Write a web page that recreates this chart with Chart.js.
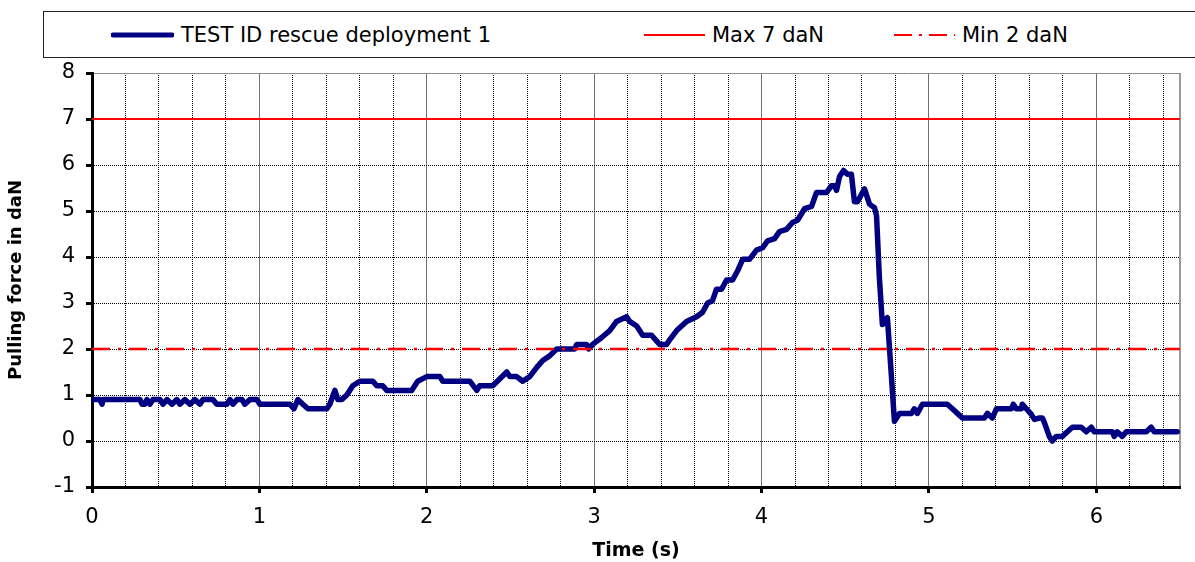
<!DOCTYPE html>
<html><head><meta charset="utf-8">
<script src="https://cdn.jsdelivr.net/npm/chart.js@4/dist/chart.umd.min.js"></script>
<style>
html,body{margin:0;padding:0;background:#fff;overflow:hidden}
#wrap{position:relative;width:1195px;height:562px}
#c{position:absolute;left:0;top:0}
#legend{position:absolute;left:43px;top:11px;width:1200px;height:47px;border:1px solid #222;box-sizing:border-box;font-family:"DejaVu Sans",Verdana,sans-serif;font-size:21px;color:#000;background:#fff}
.item{position:absolute;top:0;height:45px;display:flex;align-items:center;white-space:nowrap}
.item svg{margin-right:7px}
</style></head>
<body>
<div id="wrap">
<canvas id="c" width="1195" height="562"></canvas>
<div id="legend">
  <div class="item" style="left:67px"><svg width="63" height="10"><line x1="2" y1="5" x2="61" y2="5" stroke="#000080" stroke-width="5" stroke-linecap="round"/></svg><span>TEST ID rescue deployment 1</span></div>
  <div class="item" style="left:600px"><svg width="61" height="10"><line x1="0" y1="5" x2="61" y2="5" stroke="#ff0000" stroke-width="2"/></svg><span>Max 7 daN</span></div>
  <div class="item" style="left:850px"><svg width="61" height="10"><line x1="0" y1="5" x2="61" y2="5" stroke="#ff0000" stroke-width="2" stroke-dasharray="18 7 3 7"/></svg><span>Min 2 daN</span></div>
</div>
</div>
<script>
// ---- data ----
const timeS = [0.0,0.048,0.06,0.066,0.287,0.299,0.316,0.328,0.346,0.364,0.406,0.424,0.448,0.478,0.507,0.525,0.555,0.585,0.615,0.645,0.663,0.722,0.746,0.806,0.824,0.842,0.866,0.896,0.913,0.943,0.985,1.003,1.182,1.206,1.23,1.26,1.29,1.403,1.421,1.451,1.469,1.493,1.522,1.54,1.558,1.6,1.678,1.701,1.737,1.761,1.91,1.928,1.946,2.0,2.078,2.096,2.257,2.299,2.316,2.394,2.478,2.496,2.537,2.573,2.615,2.657,2.693,2.734,2.776,2.884,2.896,2.955,2.967,2.991,3.045,3.093,3.134,3.194,3.212,3.254,3.29,3.343,3.391,3.433,3.451,3.493,3.552,3.612,3.648,3.678,3.707,3.731,3.761,3.791,3.827,3.857,3.887,3.928,3.97,4.006,4.036,4.078,4.107,4.149,4.185,4.215,4.257,4.299,4.328,4.388,4.418,4.436,4.448,4.466,4.49,4.513,4.537,4.555,4.573,4.615,4.645,4.675,4.687,4.704,4.722,4.752,4.776,4.794,4.824,4.896,4.913,4.931,4.961,5.11,5.14,5.17,5.2,5.331,5.349,5.379,5.403,5.493,5.504,5.522,5.552,5.558,5.582,5.612,5.63,5.66,5.678,5.69,5.719,5.737,5.761,5.797,5.827,5.857,5.91,5.94,5.97,5.988,6.096,6.107,6.125,6.155,6.179,6.299,6.328,6.346,6.484];
const forceDaN = [0.9,0.9,0.8,0.9,0.9,0.8,0.8,0.9,0.8,0.9,0.9,0.8,0.9,0.8,0.9,0.8,0.9,0.8,0.9,0.8,0.9,0.9,0.8,0.8,0.9,0.8,0.9,0.9,0.8,0.9,0.9,0.8,0.8,0.7,0.9,0.8,0.7,0.7,0.8,1.1,0.9,0.9,1.0,1.1,1.2,1.3,1.3,1.2,1.2,1.1,1.1,1.2,1.3,1.4,1.4,1.3,1.3,1.1,1.2,1.2,1.5,1.4,1.4,1.3,1.4,1.6,1.75,1.85,2.0,2.0,2.1,2.1,2.0,2.1,2.25,2.4,2.6,2.7,2.6,2.5,2.3,2.3,2.1,2.1,2.2,2.4,2.6,2.7,2.8,3.0,3.05,3.3,3.3,3.5,3.5,3.7,3.95,3.95,4.15,4.2,4.35,4.4,4.55,4.6,4.75,4.8,5.05,5.1,5.4,5.4,5.55,5.55,5.45,5.75,5.88,5.8,5.8,5.2,5.2,5.48,5.15,5.07,4.9,3.55,2.53,2.68,1.4,0.43,0.6,0.6,0.7,0.6,0.8,0.8,0.7,0.6,0.5,0.5,0.6,0.5,0.7,0.7,0.8,0.7,0.7,0.8,0.7,0.58,0.47,0.5,0.5,0.4,0.1,0.0,0.1,0.1,0.2,0.3,0.3,0.2,0.3,0.2,0.2,0.1,0.2,0.1,0.2,0.2,0.3,0.2,0.2];
const maxLimit = 7;
const minLimit = 2;
const timeRange = [0, 6.5];
const forceRange = [-1, 8];
const seriesLabels = ['TEST ID rescue deployment 1', 'Max 7 daN', 'Min 2 daN'];

// grid positions: every 0.2 s plus the end of the axis
const xGridValues = [];
for (let i = 0; i <= 32; i++) xGridValues.push(Math.round(i * 2) / 10);
xGridValues.push(timeRange[1]);

const FONT = '"DejaVu Sans", Verdana, sans-serif';
const isInt = v => Math.abs(v - Math.round(v)) < 1e-6;

const mainData = timeS.map((t, i) => ({x: t, y: forceDaN[i]}));
const maxData = timeRange.map(t => ({x: t, y: maxLimit}));
const minData = timeRange.map(t => ({x: t, y: minLimit}));

new Chart(document.getElementById('c'), {
  type: 'line',
  data: {
    datasets: [
      {label: seriesLabels[0], data: mainData, borderColor: '#000080', borderWidth: 5.5, borderJoinStyle: 'round', borderCapStyle: 'round', pointRadius: 0, tension: 0, order: 2},
      {label: seriesLabels[1], data: maxData, borderColor: '#ff0000', borderWidth: 2, pointRadius: 0, order: 1},
      {label: seriesLabels[2], data: minData, borderColor: '#ff0000', borderWidth: 2.5, borderDash: [18, 8, 3, 8], pointRadius: 0, order: 1}
    ]
  },
  options: {
    responsive: false,
    animation: false,
    layout: {padding: {left: 0, top: 73, right: 15, bottom: 0}},
    plugins: {legend: {display: false}, tooltip: {enabled: false}},
    scales: {
      x: {
        type: 'linear', min: timeRange[0], max: timeRange[1],
        afterBuildTicks: s => { s.ticks = xGridValues.map(v => ({value: v})); },
        afterFit: s => { s.height = 75; },
        grid: {
          color: c => {
            const v = c.tick ? c.tick.value : 0;
            if (v === timeRange[1]) return '#9a9a9a';
            if (isInt(v)) return '#707070';
            return '#000';
          },
          lineWidth: c => (c.tick && c.tick.value === timeRange[1]) ? 2 : 1,
          tickLength: 6, tickWidth: 3,
          tickColor: c => (c.tick && isInt(c.tick.value)) ? '#000' : 'rgba(0,0,0,0)'
        },
        border: {
          display: true, color: '#000', width: 3,
          dash: c => {
            if (!c.tick) return [];
            const v = c.tick.value;
            return (isInt(v) || v === timeRange[1]) ? [] : [1, 1];
          }
        },
        ticks: {
          autoSkip: false, maxRotation: 0, minRotation: 0, color: '#000', padding: 12,
          font: {family: FONT, size: 21},
          callback: v => isInt(v) ? String(Math.round(v)) : ''
        },
        title: {display: true, text: 'Time (s)', color: '#000', font: {family: FONT, size: 19, weight: 'bold'}, padding: {top: 0, bottom: 0}}
      },
      y: {
        type: 'linear', min: forceRange[0], max: forceRange[1],
        ticks: {stepSize: 1, color: '#000', padding: 11, font: {family: FONT, size: 21}},
        afterFit: s => { s.width = 92; },
        grid: {
          color: c => {
            const v = c.tick ? c.tick.value : 0;
            if (v === forceRange[1]) return '#8a8a8a';
            if (v === forceRange[0]) return 'rgba(0,0,0,0)';
            return '#000';
          },
          lineWidth: 1,
          tickLength: 6, tickWidth: 3, tickColor: '#000'
        },
        border: {
          display: true, color: '#000', width: 3,
          dash: c => {
            if (!c.tick) return [];
            return c.tick.value === forceRange[1] ? [] : [1, 1];
          }
        },
        title: {display: true, text: 'Pulling force in daN', color: '#000', font: {family: FONT, size: 18, weight: 'bold'}, padding: {top: 6, bottom: 0}}
      }
    }
  }
});
</script>
</body></html>
